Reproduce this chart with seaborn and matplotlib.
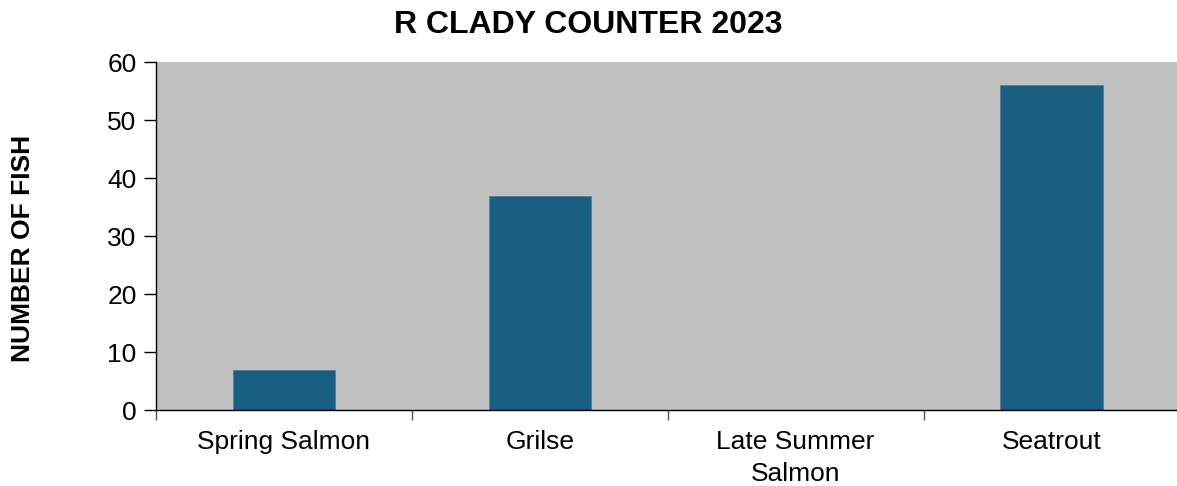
import matplotlib
matplotlib.use("Agg")
import matplotlib.pyplot as plt
import seaborn as sns
import pandas as pd
from matplotlib.ticker import FixedLocator

# === Data
categories = ["Spring Salmon", "Grilse", "Late Summer\nSalmon", "Seatrout"]
fish_counts = [7, 37, 0, 56]
y_ticks = [0, 10, 20, 30, 40, 50, 60]

df = pd.DataFrame({"Soort": categories, "Aantal": fish_counts})

sns.set_style("ticks")
plt.rcParams["font.family"] = ["Liberation Sans", "DejaVu Sans"]
plt.rcParams["text.color"] = "black"
plt.rcParams["axes.labelcolor"] = "black"
plt.rcParams["xtick.color"] = "black"
plt.rcParams["ytick.color"] = "black"

fig = plt.figure(figsize=(11.77, 4.86), dpi=100)
# rechterrand valt net buiten het beeld, zoals in het origineel
ax = fig.add_axes([0.1325, 0.156, 0.8695, 0.716])

sns.barplot(data=df, x="Soort", y="Aantal", color="#175E82", width=0.4,
            saturation=1, edgecolor="#4F7F9A", linewidth=0.6, ax=ax)

ax.set_facecolor("#C0C0C0")
ax.set_ylim(0, 60)
ax.set_xlim(-0.5, len(categories) - 0.5)
ax.set_yticks(y_ticks)
ax.tick_params(axis="y", labelsize=19, length=9, width=1, color="black",
               labelcolor="black", pad=5)
ax.tick_params(axis="x", which="major", labelsize=19, length=0, pad=14,
               labelcolor="black")
ax.xaxis.set_minor_locator(FixedLocator([i - 0.5 for i in range(len(categories) + 1)]))
ax.tick_params(axis="x", which="minor", length=7, width=1, color="#555555")
for lbl in ax.get_xticklabels():
    lbl.set_linespacing(1.45)

for s in ["top", "right"]:
    ax.spines[s].set_visible(False)
for s in ["left", "bottom"]:
    ax.spines[s].set_color("black")
    ax.spines[s].set_linewidth(1)

ax.set_xlabel("")
ax.set_ylabel("NUMBER OF FISH", fontsize=19, fontweight="bold", color="black")
ax.yaxis.set_label_coords(-0.118, 0.466)
fig.suptitle("R CLADY COUNTER 2023", fontsize=23, fontweight="bold",
             color="black", y=0.98)

fig.savefig("out.png", dpi=100)
